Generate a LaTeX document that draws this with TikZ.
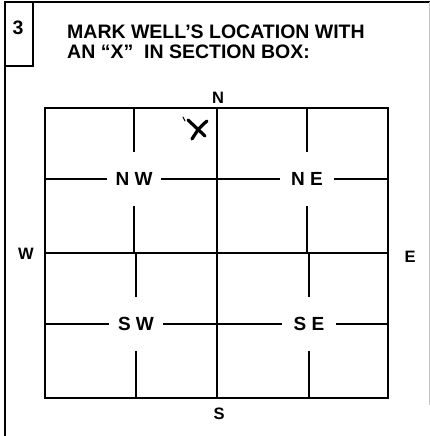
\documentclass[tikz,border=0pt]{standalone}
\usepackage{fontspec}
\setmainfont{Liberation Sans}
\begin{document}
\begin{tikzpicture}[x=1pt, y=-1pt,
  gridline/.style={line width=2pt},
  quad/.style={inner sep=0pt, minimum width=54pt, minimum height=54pt,
               font=\bfseries\fontsize{19}{19}\selectfont},
  compass/.style={inner sep=0pt, font=\bfseries\fontsize{16.5}{16.5}\selectfont},
  title/.style={inner sep=0pt, anchor=base west, font=\bfseries\fontsize{19.5}{20}\selectfont}
]
\useasboundingbox (0,0) rectangle (430,436);

% Form frame
\draw[line width=2pt] (5,436) -- (5,2) -- (430,2);
\draw[gray!45, line width=0.8pt] (429,2) -- (429,405);
\draw[line width=1.6pt] (33,2) -- (33,66) -- (5,66);

% Heading
\node[title, anchor=base] (num) at (18,35) {3};
\node[title] (line1) at (67,38) {MARK WELL’S LOCATION WITH};
\node[title] (line2) at (67,59) {AN “X”\ \ IN SECTION BOX:};

% Section box
\node[draw, gridline, inner sep=0pt, minimum width=343pt, minimum height=290pt] (box) at (216.5,253) {};
\draw[gridline] (box.north) -- (box.south);
\draw[gridline] (box.west) -- (box.east);

% Quarter labels
\node[quad] (nw) at (134,179) {N W};
\node[quad] (ne) at (307,179) {N E};
\node[quad] (sw) at (136,324) {S W};
\node[quad] (se) at (309,324) {S E};

% Quarter lines
\draw[gridline] (nw |- box.north) -- (nw.north);
\draw[gridline] (nw.south) -- (nw |- box.center);
\draw[gridline] (ne |- box.north) -- (ne.north);
\draw[gridline] (ne.south) -- (ne |- box.center);
\draw[gridline] (sw |- box.center) -- (sw.north);
\draw[gridline] (sw.south) -- (sw |- box.south);
\draw[gridline] (se |- box.center) -- (se.north);
\draw[gridline] (se.south) -- (se |- box.south);
\draw[gridline] (box.west |- nw) -- (nw.west);
\draw[gridline] (nw.east) -- (ne.west);
\draw[gridline] (ne.east) -- (box.east |- ne);
\draw[gridline] (box.west |- sw) -- (sw.west);
\draw[gridline] (sw.east) -- (se.west);
\draw[gridline] (se.east) -- (box.east |- se);

% Compass points
\node[compass] (north) at (218,98) {N};
\node[compass] (south) at (219,414) {S};
\node[compass] (west) at (26,254) {W};
\node[compass] (east) at (410,257) {E};

% Hand-drawn mark
\draw[line width=3.2pt, line cap=round] (188,120) .. controls (196,128) .. (205,136);
\draw[line width=3.2pt, line cap=round] (207,121) .. controls (199,128) .. (192,139);
\draw[line width=1pt, line cap=round] (183,117) -- (185,121);

\end{tikzpicture}
\end{document}
